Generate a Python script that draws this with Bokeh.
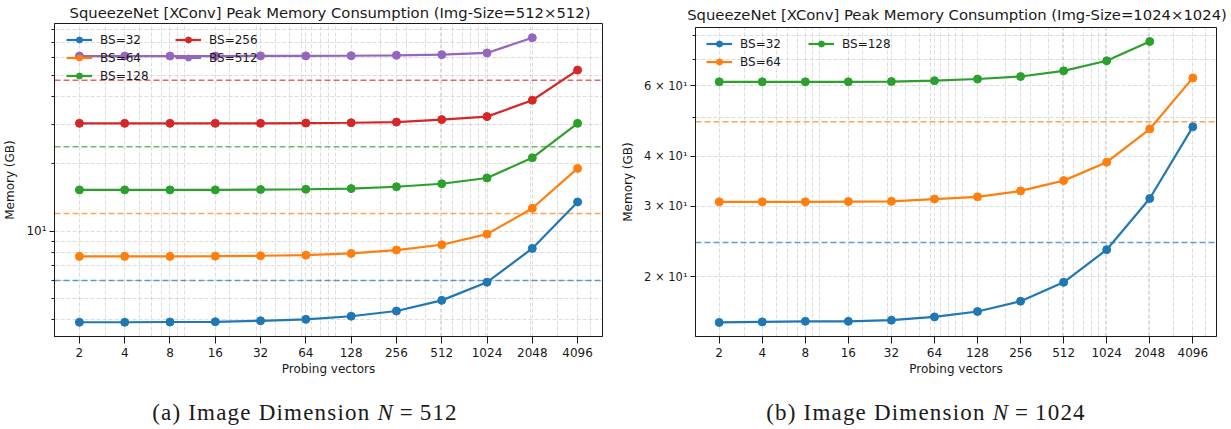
import math

from bokeh.embed import file_html
from bokeh.layouts import column, row
from bokeh.models import (BasicTickFormatter, Div, FixedTicker, Legend,
                          LegendItem, Range1d, Span)
from bokeh.plotting import figure
from bokeh.resources import INLINE

# ---------------------------------------------------------------- data
probing = [2, 4, 8, 16, 32, 64, 128, 256, 512, 1024, 2048, 4096]
probing_labels = ["2", "4", "8", "16", "32", "64", "128", "256", "512",
                  "1024", "2048", "4096"]

# peak memory (GB), image size 512x512
mem512_bs32 = [3.90, 3.90, 3.91, 3.92, 3.96, 4.02, 4.15, 4.38, 4.89, 5.90, 8.36, 13.5]
mem512_bs64 = [7.70, 7.70, 7.70, 7.72, 7.75, 7.80, 7.94, 8.22, 8.68, 9.69, 12.65, 19.1]
mem512_bs128 = [15.3, 15.3, 15.3, 15.3, 15.35, 15.4, 15.5, 15.8, 16.3, 17.3, 21.3, 30.4]
mem512_bs256 = [30.4, 30.4, 30.4, 30.4, 30.4, 30.5, 30.6, 30.8, 31.6, 32.6, 38.6, 52.7]
mem512_bs512 = [60.9, 60.9, 60.9, 60.9, 61.0, 61.0, 61.1, 61.4, 61.8, 62.9, 73.6]
# reference memory level per batch size (dashed lines), 512x512
ref512 = {"BS=32": 6.01, "BS=64": 12.0, "BS=128": 23.9, "BS=256": 47.5}

# peak memory (GB), image size 1024x1024
mem1024_bs32 = [15.4, 15.45, 15.5, 15.5, 15.6, 15.9, 16.4, 17.4, 19.4, 23.4, 31.4, 47.4]
mem1024_bs64 = [30.8, 30.8, 30.8, 30.85, 30.9, 31.3, 31.7, 32.8, 34.8, 38.7, 46.8, 62.8]
mem1024_bs128 = [61.4, 61.4, 61.4, 61.4, 61.5, 61.8, 62.4, 63.3, 65.4, 69.3, 77.4]
ref1024 = {"BS=32": 24.4, "BS=64": 48.8}

# y ticks
y512_major = [10]
y512_minor = [4, 5, 6, 7, 8, 9, 20, 30, 40, 50, 60, 70, 80]
y512_labels = ["10\u00b9"]
y1024_major = [20, 30, 40, 60]
y1024_minor = [50, 70, 80]
y1024_labels = ["2 \u00d7 10\u00b9", "3 \u00d7 10\u00b9", "4 \u00d7 10\u00b9", "6 \u00d7 10\u00b9"]

# decade sub-ticks used for the minor grid on the x axis
x_minor = [3, 5, 6, 7, 9, 10, 20, 30, 40, 50, 60, 70, 80, 90,
           100, 200, 300, 400, 500, 600, 700, 800, 900,
           1000, 2000, 3000, 5000]

COLORS = {"BS=32": "#1f77b4", "BS=64": "#ff7f0e", "BS=128": "#2ca02c",
          "BS=256": "#d62728", "BS=512": "#9467bd"}
FONT = "DejaVu Sans"
INK = "#1a1a1a"
ROW_H = 380          # height of the chart row (titles + plots)
FRAME_BOTTOM = 336   # y of the plot frames' bottom edge


def log_range(values, pad=0.05):
    lo, hi = math.log10(min(values)), math.log10(max(values))
    m = (hi - lo) * pad
    return Range1d(10 ** (lo - m), 10 ** (hi + m))


def title_div(text, width, height, indent, inner_w, pad_top):
    html = (f'<div style="margin-left:{indent}px;width:{inner_w}px;'
            f'padding-top:{pad_top}px;text-align:center;white-space:nowrap;'
            f'font-family:\'{FONT}\';font-size:14.8px;line-height:17px;'
            f'color:{INK}">{text}</div>')
    return Div(text=html, width=width, height=height, margin=0)


def panel(series, refs, y_major, y_minor, y_labels, width, height,
          border_left, border_right, legends, ytick_size):
    all_y = [v for _, ys in series for v in ys]
    p = figure(width=width, height=height, x_axis_type="log", y_axis_type="log",
               x_range=log_range(probing), y_range=log_range(all_y),
               output_backend="svg", toolbar_location=None,
               min_border_left=border_left, min_border_right=border_right,
               min_border_top=2, min_border_bottom=ROW_H - FRAME_BOTTOM,
               background_fill_color="white", border_fill_color="white",
               outline_line_color=INK, outline_line_width=1)

    xt = FixedTicker(ticks=probing, minor_ticks=x_minor)
    yt = FixedTicker(ticks=y_major, minor_ticks=y_minor)
    p.xaxis.ticker = xt
    p.yaxis.ticker = yt
    p.xgrid.ticker = xt
    p.ygrid.ticker = yt
    p.xaxis.formatter = BasicTickFormatter()
    p.yaxis.formatter = BasicTickFormatter()
    p.xaxis.major_label_overrides = dict(zip(probing, probing_labels))
    p.yaxis.major_label_overrides = dict(zip(y_major, y_labels))

    p.xaxis.axis_label = "Probing vectors"
    p.yaxis.axis_label = "Memory (GB)"
    for ax in (p.xaxis, p.yaxis):
        ax.axis_label_text_font = FONT
        ax.axis_label_text_font_size = "12px"
        ax.axis_label_text_font_style = "normal"
        ax.axis_label_text_color = INK
        ax.major_label_text_font = FONT
        ax.major_label_text_color = INK
        ax.axis_line_color = INK
        ax.major_tick_line_color = INK
        ax.minor_tick_line_color = INK
        ax.major_tick_in = 0
        ax.minor_tick_in = 0
    p.xaxis.major_label_text_font_size = "12px"
    p.yaxis.major_label_text_font_size = ytick_size
    p.xaxis.major_tick_out = 7
    p.xaxis.minor_tick_out = 0
    p.xaxis.minor_tick_line_color = None
    p.xaxis.major_label_standoff = 4
    p.xaxis.axis_label_standoff = 2
    p.yaxis.major_tick_out = 5
    p.yaxis.minor_tick_out = 3
    p.yaxis.major_label_standoff = 3
    p.yaxis.axis_label_standoff = 6

    for g in (p.xgrid, p.ygrid):
        g.grid_line_color = "#b0b0b0"
        g.grid_line_alpha = 0.55
        g.grid_line_dash = "4 2"
        g.grid_line_width = 0.8
        g.minor_grid_line_color = "#b0b0b0"
        g.minor_grid_line_alpha = 0.55
        g.minor_grid_line_dash = "4 2"
        g.minor_grid_line_width = 0.8

    for name, level in refs.items():
        p.add_layout(Span(location=level, dimension="width",
                          line_color=COLORS[name], line_width=1.5,
                          line_alpha=0.7, line_dash="6 3", level="underlay"))

    items = {}
    for name, ys in series:
        xs = probing[:len(ys)]
        ln = p.line(xs, ys, line_color=COLORS[name], line_width=2.2)
        sc = p.scatter(xs, ys, size=8, fill_color=COLORS[name],
                       line_color=COLORS[name])
        items[name] = LegendItem(label=name, renderers=[ln, sc])

    for names, loc in legends:
        lg = Legend(items=[items[n] for n in names], location=loc,
                    background_fill_alpha=0, border_line_color=None,
                    padding=0, margin=0, spacing=3, glyph_width=26,
                    glyph_height=15, label_height=15, label_standoff=8,
                    label_text_font=FONT, label_text_font_size="12px",
                    label_text_color=INK)
        p.add_layout(lg)
    return p


# left panel: frame spans y 23..336, x 54..602
left_title = title_div(
    "SqueezeNet [XConv] Peak Memory Consumption (Img-Size=512\u00d7512)",
    width=615, height=21, indent=45, inner_w=570, pad_top=4)
left = panel(
    [("BS=32", mem512_bs32), ("BS=64", mem512_bs64), ("BS=128", mem512_bs128),
     ("BS=256", mem512_bs256), ("BS=512", mem512_bs512)],
    ref512, y512_major, y512_minor, y512_labels,
    width=615, height=ROW_H - 21, border_left=54, border_right=13,
    legends=[(["BS=32", "BS=64", "BS=128"], (12, 253)),
             (["BS=256", "BS=512"], (121, 271))],
    ytick_size="12px")

# right panel: frame spans y 27..336, x 695..1216
right_title = title_div(
    "SqueezeNet [XConv] Peak Memory Consumption (Img-Size=1024\u00d71024)",
    width=616, height=25, indent=68, inner_w=548, pad_top=6)
right = panel(
    [("BS=32", mem1024_bs32), ("BS=64", mem1024_bs64), ("BS=128", mem1024_bs128)],
    ref1024, y1024_major, y1024_minor, y1024_labels,
    width=616, height=ROW_H - 25, border_left=80, border_right=15,
    legends=[(["BS=32", "BS=64"], (11, 267)),
             (["BS=128"], (113, 285))],
    ytick_size="11.5px")


def caption(label, n, width, indent):
    html = (f'<div style="margin-left:{indent}px;width:{width}px;padding-top:20px;'
            f'text-align:center;white-space:nowrap;font-family:\'Liberation Serif\';'
            f'font-size:23px;line-height:26px;letter-spacing:1.2px;color:{INK}">'
            f'({label}) Image Dimension <i>N</i>&thinsp;=&thinsp;{n}</div>')
    return Div(text=html, width=indent + width, height=49, margin=0)


cap_a = caption("a", 512, width=610, indent=0)
cap_b = caption("b", 1024, width=622, indent=5)

page = column(row(column(left_title, left), column(right_title, right)),
              row(cap_a, cap_b))

with open("out.html", "w") as f:
    f.write(file_html(page, INLINE))
